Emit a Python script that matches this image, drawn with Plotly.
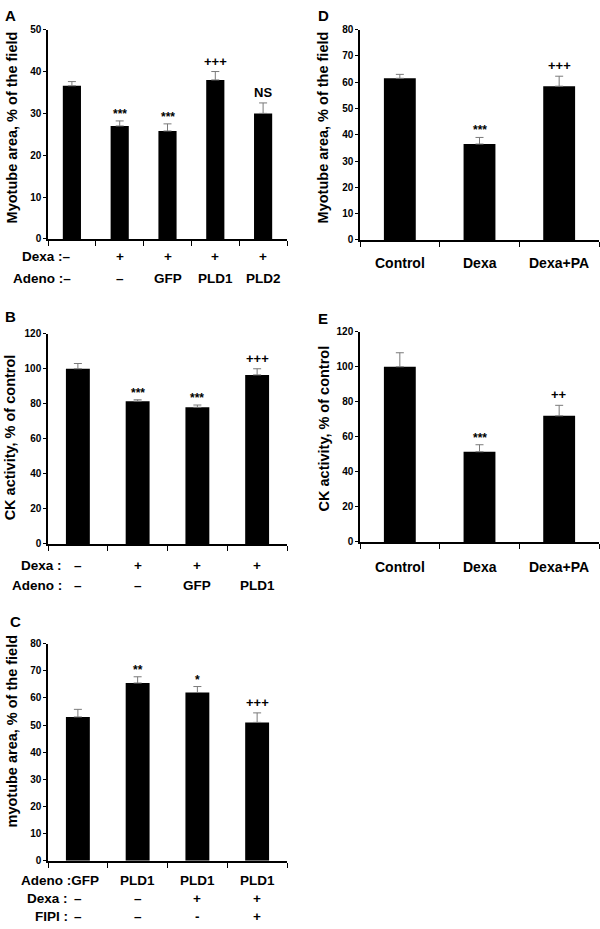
import plotly.graph_objects as go

W, H = 600, 929
FONT = "Liberation Sans, Arial, sans-serif"

# ---------------- data ----------------
a_values = [36.6, 27.0, 25.8, 38.0, 30.0]
a_errors = [1.0, 1.2, 1.7, 2.0, 2.5]
a_marks = ["", "***", "***", "+++", "NS"]
a_dexa = ["Dexa :–", "+", "+", "+", "+"]
a_adeno = ["Adeno :–", "–", "GFP", "PLD1", "PLD2"]

b_values = [100.0, 81.5, 78.0, 96.5]
b_errors = [3.0, 0.8, 1.3, 3.5]
b_marks = ["", "***", "***", "+++"]
b_dexa = ["–", "+", "+", "+"]
b_adeno = ["–", "–", "GFP", "PLD1"]

c_values = [53.0, 65.5, 62.0, 51.0]
c_errors = [2.8, 2.3, 2.2, 3.5]
c_marks = ["", "**", "*", "+++"]
c_adeno = ["Adeno :GFP", "PLD1", "PLD1", "PLD1"]
c_dexa = ["–", "–", "+", "+"]
c_fipi = ["–", "–", "-", "+"]

d_values = [61.5, 36.5, 58.5]
d_errors = [1.5, 2.5, 3.8]
d_marks = ["", "***", "+++"]
d_labels = ["Control", "Dexa", "Dexa+PA"]

e_values = [100.0, 51.5, 72.0]
e_errors = [8.0, 4.0, 6.0]
e_marks = ["", "***", "++"]
e_labels = ["Control", "Dexa", "Dexa+PA"]

# ---------------- layout helpers ----------------
def px(x):
    return x / W

def py(y):
    return 1 - y / H

panels = [
    dict(v=a_values, e=a_errors, m=a_marks, ymax=50, dt=10, xd=(48, 287), yd=(24, 236), bw=0.38,
         title="Myotube area, % of the field", letter="A", lp=(3, 10), tp=(12, 123)),
    dict(v=b_values, e=b_errors, m=b_marks, ymax=120, dt=20, xd=(48, 287), yd=(332, 545), bw=0.4,
         title="CK activity, % of control", letter="B", lp=(3, 315), tp=(10, 437)),
    dict(v=c_values, e=c_errors, m=c_marks, ymax=80, dt=10, xd=(48, 287), yd=(646, 866), bw=0.4,
         title="myotube area, % of the field", letter="C", lp=(8, 624), tp=(12, 735)),
    dict(v=d_values, e=d_errors, m=d_marks, ymax=80, dt=10, xd=(360, 599), yd=(24, 237), bw=0.4,
         title="Myotube area, % of the field", letter="D", lp=(316, 10), tp=(323, 123)),
    dict(v=e_values, e=e_errors, m=e_marks, ymax=120, dt=20, xd=(360, 599), yd=(330, 543), bw=0.4,
         title="CK activity, % of control", letter="E", lp=(316, 317), tp=(324, 428)),
]

fig = go.Figure()
annotations = []
layout = dict(
    width=W, height=H, margin=dict(l=0, r=0, t=0, b=0),
    paper_bgcolor="white", plot_bgcolor="white", showlegend=False,
    font=dict(family=FONT, color="black"),
)

for i, p in enumerate(panels):
    k = "" if i == 0 else str(i + 1)
    xa, ya = "x" + k, "y" + k
    n = len(p["v"])
    xs = list(range(n))
    fig.add_trace(go.Bar(
        x=xs, y=p["v"], xaxis=xa, yaxis=ya, width=p["bw"],
        marker=dict(color="black", line=dict(width=0)),
        error_y=dict(type="data", symmetric=False, array=p["e"], arrayminus=[0] * n,
                     color="#7a7a7a", thickness=1, width=4),
    ))
    layout["xaxis" + k] = dict(
        domain=[px(p["xd"][0]), px(p["xd"][1])], anchor=ya,
        range=[-0.5, n - 0.5], showgrid=False, zeroline=False,
        showline=True, linecolor="black", linewidth=1.5,
        ticks="outside", ticklen=5, tickwidth=1, tickcolor="black",
        tickvals=[j - 0.5 for j in range(n + 1)], showticklabels=False, fixedrange=True,
    )
    layout["yaxis" + k] = dict(
        domain=[py(p["yd"][1]), py(p["yd"][0])], anchor=xa,
        range=[0, p["ymax"]], dtick=p["dt"], showgrid=False, zeroline=False,
        showline=True, linecolor="black", linewidth=1.5,
        ticks="outside", ticklen=3, tickwidth=1, tickcolor="black",
        tickfont=dict(family=FONT, size=10, weight="bold"), fixedrange=True,
    )
    annotations.append(dict(
        text="<b>%s</b>" % p["title"], xref="paper", yref="paper",
        x=px(p["tp"][0]), y=py(p["tp"][1]), textangle=-90, showarrow=False,
        xanchor="center", yanchor="middle", font=dict(size=14.5, family=FONT),
    ))
    annotations.append(dict(
        text="<b>%s</b>" % p["letter"], xref="paper", yref="paper",
        x=px(p["lp"][0]), y=py(p["lp"][1]), showarrow=False,
        xanchor="left", yanchor="middle", font=dict(size=15, family=FONT),
    ))
    for j, m in enumerate(p["m"]):
        if not m:
            continue
        star = m.startswith("*")
        annotations.append(dict(
            text="<b>%s</b>" % m, xref=xa, yref=ya, x=j, y=p["v"][j] + p["e"][j],
            showarrow=False, xanchor="center", yanchor="bottom",
            yshift=-2 if star else 1,
            font=dict(size=12 if star else 13, family=FONT),
        ))

def row(texts, xa, ypix, size=13.5, start=0):
    for j, t in enumerate(texts):
        if j < start:
            continue
        annotations.append(dict(
            text="<b>%s</b>" % t, xref=xa, yref="paper", x=j, y=py(ypix),
            showarrow=False, xanchor="center", yanchor="middle",
            font=dict(size=size, family=FONT),
        ))

def label(text, xpix, ypix, size=13.5):
    annotations.append(dict(
        text="<b>%s</b>" % text, xref="paper", yref="paper", x=px(xpix), y=py(ypix),
        showarrow=False, xanchor="right", yanchor="middle", font=dict(size=size, family=FONT),
    ))

# Panel A rows (first entry carries the row label)
label(a_dexa[0], 73, 254)
row(a_dexa, "x", 254, start=1)
label(a_adeno[0], 73, 276)
row(a_adeno, "x", 276, start=1)

# Panel B rows
label("Dexa :", 64, 567)
row(b_dexa, "x2", 567)
label("Adeno :", 64, 587)
row(b_adeno, "x2", 587)

# Panel C rows
label(c_adeno[0], 101, 886)
row(c_adeno, "x3", 886, start=1)
label("Dexa :", 70, 904)
row(c_dexa, "x3", 904)
label("FIPI :", 70, 922)
row(c_fipi, "x3", 922)

# Panel D, E category labels
row(d_labels, "x4", 260, size=14)
row(e_labels, "x5", 568, size=14)

layout["annotations"] = annotations
fig.update_layout(**layout)
fig.write_html("out.html", config={"displayModeBar": False},
               post_script="document.body.style.margin='0';document.body.style.overflow='hidden';")
